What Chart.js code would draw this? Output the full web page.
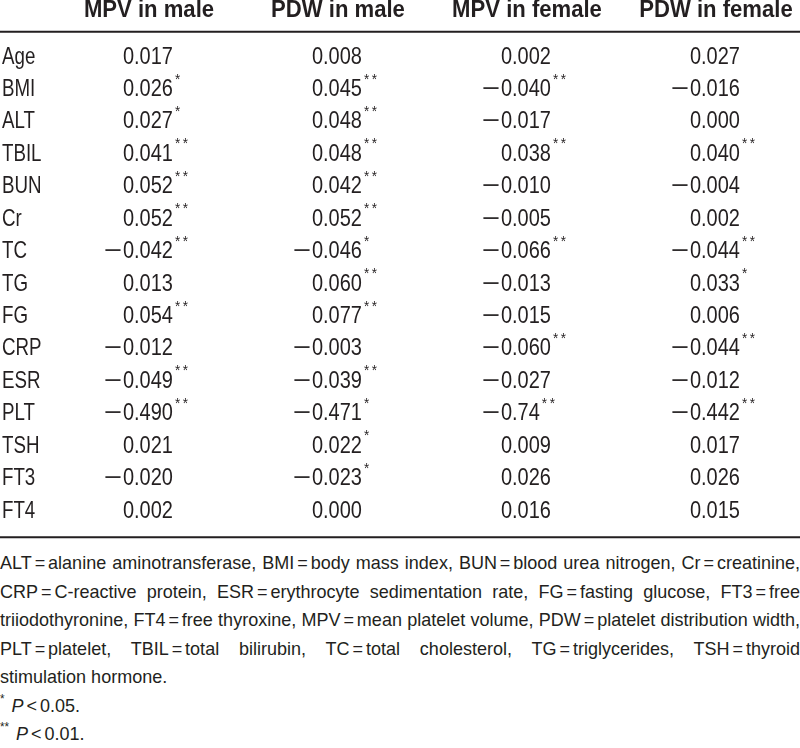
<!DOCTYPE html>
<html>
<head>
<meta charset="utf-8">
<script src="https://cdn.jsdelivr.net/npm/chart.js@4"></script>
<style>
  body { margin: 0; background: #fff; }
  #wrap { position: relative; width: 800px; height: 548px; }
  #notes { position: absolute; left: 0; top: 549px; width: 800px;
    font: 18.5px "Liberation Sans", Arial, sans-serif;
    color: #231f20; line-height: 28.5px; }
  #notes > div { white-space: nowrap; height: 28.5px; }
  #notes .j { text-align: justify; text-align-last: justify; }
  #notes .eq { margin: 0 3px; }
  #notes sup { font-size: 12px; line-height: 0; vertical-align: baseline; position: relative; top: -9px; margin-right: 2px; }
</style>
</head>
<body>
<div id="wrap"><canvas id="table"></canvas></div>
<div id="notes">
  <div class="j">ALT = alanine aminotransferase, BMI = body mass index, BUN = blood urea nitrogen, Cr = creatinine,</div>
  <div class="j">CRP = C-reactive protein, ESR = erythrocyte sedimentation rate, FG = fasting glucose, FT3 = free</div>
  <div class="j">triiodothyronine, FT4 = free thyroxine, MPV = mean platelet volume, PDW = platelet distribution width,</div>
  <div class="j">PLT = platelet, TBIL = total bilirubin, TC = total cholesterol, TG = triglycerides, TSH = thyroid</div>
  <div>stimulation hormone.</div>
  <div><sup>*</sup>&nbsp;<i>P</i> = &lt; = 0.05.</div>
  <div><sup>**</sup>&nbsp;<i>P</i> = &lt; = 0.01.</div>
</div>
<script>
const rows = ['Age', 'BMI', 'ALT', 'TBIL', 'BUN', 'Cr', 'TC', 'TG', 'FG', 'CRP', 'ESR', 'PLT', 'TSH', 'FT3', 'FT4'];
const columns = ['MPV in male', 'PDW in male', 'MPV in female', 'PDW in female'];

const mpvMale   = ['0.017', '0.026', '0.027', '0.041', '0.052', '0.052', '-0.042', '0.013', '0.054', '-0.012', '-0.049', '-0.490', '0.021', '-0.020', '0.002'];
const pdwMale   = ['0.008', '0.045', '0.048', '0.048', '0.042', '0.052', '-0.046', '0.060', '0.077', '-0.003', '-0.039', '-0.471', '0.022', '-0.023', '0.000'];
const mpvFemale = ['0.002', '-0.040', '-0.017', '0.038', '-0.010', '-0.005', '-0.066', '-0.013', '-0.015', '-0.060', '-0.027', '-0.74', '0.009', '0.026', '0.016'];
const pdwFemale = ['0.027', '-0.016', '0.000', '0.040', '-0.004', '0.002', '-0.044', '0.033', '0.006', '-0.044', '-0.012', '-0.442', '0.017', '0.026', '0.015'];

// significance marks (* P<0.05, ** P<0.01)
const mpvMaleSig   = ['', '*', '*', '**', '**', '**', '**', '', '**', '', '**', '**', '', '', ''];
const pdwMaleSig   = ['', '**', '**', '**', '**', '**', '*', '**', '**', '', '**', '*', '*', '*', ''];
const mpvFemaleSig = ['', '**', '', '**', '', '', '**', '', '', '**', '', '**', '', '', ''];
const pdwFemaleSig = ['', '', '', '**', '', '', '**', '*', '', '**', '', '**', '', '', ''];

const ink = '#231f20';
const font = '"Liberation Sans", Arial, sans-serif';

const colValues = [mpvMale, pdwMale, mpvFemale, pdwFemale];
const colSigs = [mpvMaleSig, pdwMaleSig, mpvFemaleSig, pdwFemaleSig];

const datasets = colValues.map((vals, c) => ({
  label: columns[c],
  data: rows.map((r, i) => ({ x: c, y: r, v: vals[i], s: colSigs[c][i] })),
  pointRadius: 0
}));

// condensed look: squeeze text horizontally
function squeezed(ctx, text, x, y, sx, align) {
  ctx.save();
  ctx.translate(x, y);
  ctx.scale(sx, 1);
  ctx.textAlign = align;
  ctx.fillText(text, 0, 0);
  ctx.restore();
  return ctx.measureText(text).width * sx;
}

const cellText = {
  id: 'cellText',
  afterDatasetsDraw(chart) {
    const ctx = chart.ctx;
    const area = chart.chartArea;
    const xs = chart.scales.x, ys = chart.scales.y;
    ctx.save();
    ctx.fillStyle = ink;
    ctx.textBaseline = 'middle';

    // column headers
    ctx.font = 'bold 23.5px ' + font;
    columns.forEach((c, i) => squeezed(ctx, c, xs.getPixelForValue(i) + 1, area.top - 30.5, 0.94, 'center'));

    // row labels
    ctx.font = '24px ' + font;
    rows.forEach((r, i) => squeezed(ctx, r, 2, ys.getPixelForValue(i), 0.78, 'left'));

    // cells, aligned on the decimal point
    chart.data.datasets.forEach((ds, di) => {
      chart.getDatasetMeta(di).data.forEach((pt, i) => {
        const d = ds.data[i];
        const neg = d.v.startsWith('-');
        const txt = neg ? d.v.slice(1) : d.v;
        const dot = txt.indexOf('.');
        const x = pt.x - 14;
        ctx.font = '24px ' + font;
        const wi = squeezed(ctx, txt.slice(0, dot), x, pt.y, 0.833, 'right');
        const wf = squeezed(ctx, txt.slice(dot), x, pt.y, 0.833, 'left');
        if (neg) squeezed(ctx, '\u2212', x - wi - 1, pt.y, 1.3, 'right');
        if (d.s) {
          ctx.font = '15px ' + font;
          squeezed(ctx, d.s.split('').join('\u2009'), x + wf + 2, pt.y - 10, 0.9, 'left');
        }
      });
    });

    // top and bottom rules
    ctx.strokeStyle = ink;
    ctx.lineWidth = 2;
    ctx.beginPath();
    ctx.moveTo(0, area.top - 9);
    ctx.lineTo(chart.width, area.top - 9);
    ctx.moveTo(0, area.bottom + 10);
    ctx.lineTo(chart.width, area.bottom + 10);
    ctx.stroke();
    ctx.restore();
  }
};

new Chart(document.getElementById('table'), {
  type: 'scatter',
  data: { datasets: datasets },
  options: {
    responsive: true,
    maintainAspectRatio: false,
    animation: false,
    layout: { padding: { top: 0, bottom: 20.8, left: 0, right: 0 } },
    plugins: { legend: { display: false }, tooltip: { enabled: false } },
    scales: {
      x: {
        type: 'linear',
        position: 'top',
        min: -0.4656,
        max: 3.4497,
        afterBuildTicks: (s) => { s.ticks = columns.map((c, i) => ({ value: i })); },
        afterFit: (s) => { s.height = 40.8; },
        grid: { display: false },
        border: { display: false },
        ticks: { display: false }
      },
      y: {
        type: 'category',
        labels: rows,
        offset: true,
        afterFit: (s) => { s.width = 60; },
        grid: { display: false },
        border: { display: false },
        ticks: { display: false }
      }
    }
  },
  plugins: [cellText]
});

// footnotes: small gaps round "=" and "<", squeezed so the tightest line fills the width
const notes = document.querySelectorAll('#notes > div');
notes.forEach(d => {
  d.innerHTML = d.innerHTML
    .replace(/ = &lt; = /g, '<span class="eq">&lt;</span>')
    .replace(/ = /g, '<span class="eq">=</span>');
});
const probe = document.createElement('span');
probe.innerHTML = notes[2].innerHTML;
probe.style.whiteSpace = 'nowrap';
document.getElementById('notes').appendChild(probe);
const sx = 800 / (probe.getBoundingClientRect().width + 2);
probe.remove();
notes.forEach(d => {
  d.style.width = (800 / sx) + 'px';
  d.style.transform = 'scaleX(' + sx + ')';
  d.style.transformOrigin = '0 0';
});
</script>
</body>
</html>
